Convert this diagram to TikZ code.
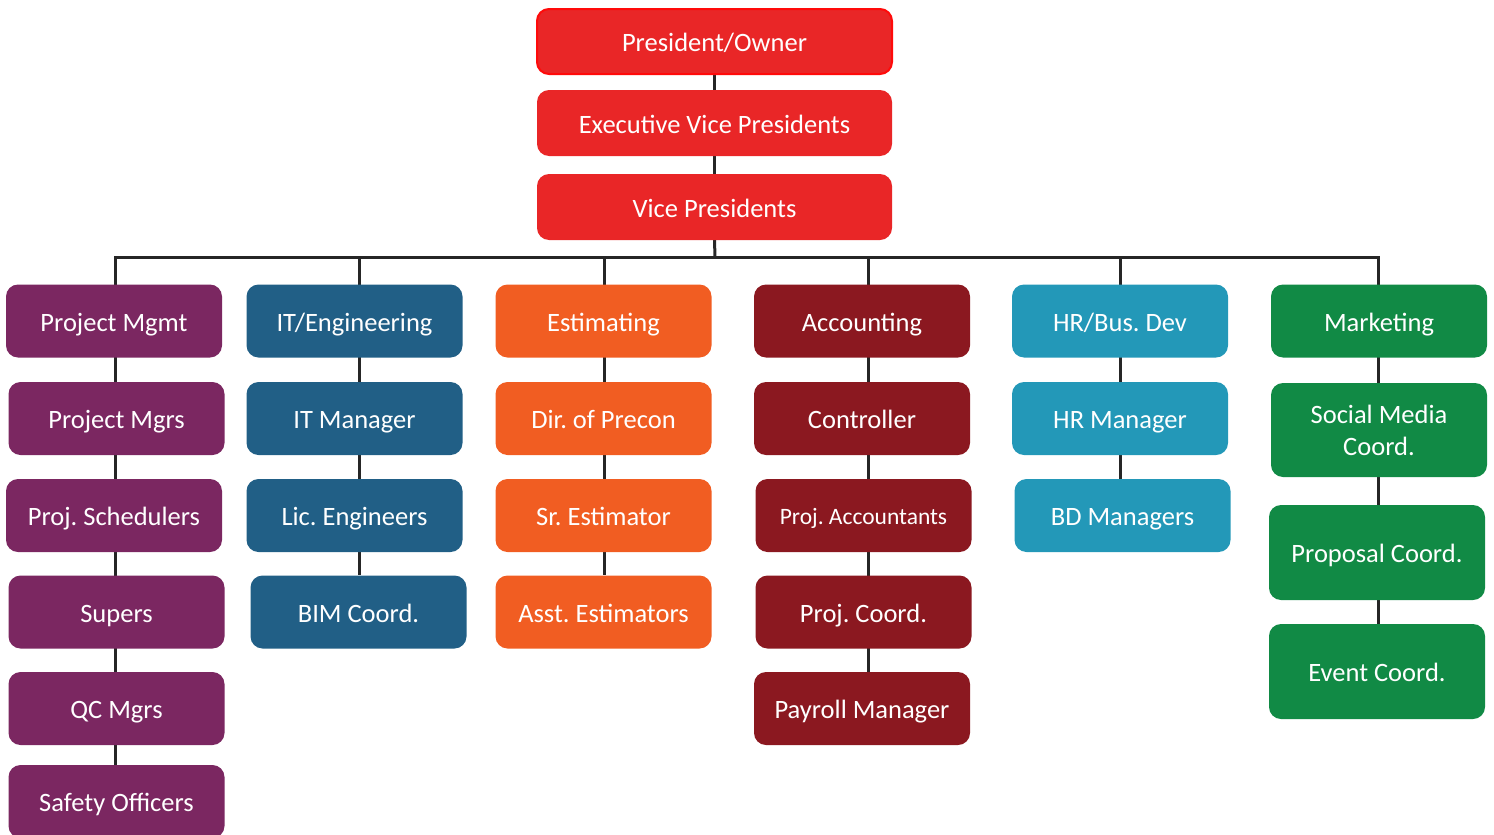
\documentclass[tikz,border=0pt]{standalone}
\usepackage{fontspec}
\setmainfont{Carlito}
\usetikzlibrary{positioning,backgrounds}

\definecolor{topred}{HTML}{E92627}
\definecolor{topedge}{HTML}{FF0A0A}
\definecolor{pmpurple}{HTML}{7B2761}
\definecolor{itblue}{HTML}{215F86}
\definecolor{estorange}{HTML}{F15D22}
\definecolor{accred}{HTML}{8B1820}
\definecolor{hrteal}{HTML}{2398B8}
\definecolor{mktgreen}{HTML}{118A45}
\definecolor{linegray}{HTML}{262626}

\tikzset{
  box/.style={rounded corners=12pt, minimum width=216pt, minimum height=73pt,
    inner sep=0pt, text=white, align=center, text height=20pt, text depth=0pt,
    font=\fontsize{26.5}{32}\selectfont\frenchspacing},
  twoline/.style={text height=, text depth=},
  topbox/.style={box, fill=topred, minimum width=355pt, minimum height=66pt},
  pmbox/.style={box, fill=pmpurple},
  itbox/.style={box, fill=itblue},
  estbox/.style={box, fill=estorange},
  accbox/.style={box, fill=accred},
  hrbox/.style={box, fill=hrteal},
  mktbox/.style={box, fill=mktgreen},
  link/.style={draw=linegray, line width=3pt}
}

\begin{document}
\begin{tikzpicture}[x=1pt,y=-1pt]
  \useasboundingbox (0,0) rectangle (1494,835);

  % top of the chart
  \node[topbox, draw=topedge, line width=2pt, minimum height=65pt] (pres) at (714.5,41.5) {President/Owner};
  \node[topbox] (evp) at (714.5,123) {Executive Vice Presidents};
  \node[topbox] (vp) at (714.5,207) {Vice Presidents};

  % bus and drops
  \coordinate (bus) at (715,257);
  \coordinate (c1) at (115,257);
  \coordinate (c2) at (359,257);
  \coordinate (c3) at (604,257);
  \coordinate (c4) at (868,257);
  \coordinate (c5) at (1120,257);
  \coordinate (c6) at (1378,257);

  % project management
  \node[pmbox] (pm) at (114,321) {Project Mgmt};
  \node[pmbox] (pmgrs) at (116.5,418.5) {Project Mgrs};
  \node[pmbox] (sched) at (114,515.5) {Proj. Schedulers};
  \node[pmbox] (supers) at (116.5,612) {Supers};
  \node[pmbox] (qc) at (116.5,708.5) {QC Mgrs};
  \node[pmbox] (safety) at (116.5,801.5) {Safety Officers};

  % IT / engineering
  \node[itbox] (it) at (354.5,321) {IT/Engineering};
  \node[itbox] (itmgr) at (354.5,418.5) {IT Manager};
  \node[itbox] (lic) at (354.5,515.5) {Lic. Engineers};
  \node[itbox] (bim) at (358.5,612) {BIM Coord.};

  % estimating
  \node[estbox] (est) at (603.5,321) {Estimating};
  \node[estbox] (precon) at (603.5,418.5) {Dir. of Precon};
  \node[estbox] (srest) at (603.5,515.5) {Sr. Estimator};
  \node[estbox] (asst) at (603.5,612) {Asst. Estimators};

  % accounting
  \node[accbox] (acc) at (862,321) {Accounting};
  \node[accbox] (ctrl) at (862,418.5) {Controller};
  \node[accbox, font=\fontsize{23.5}{28}\selectfont\frenchspacing, text height=18pt] (projacc) at (863.5,515.5) {Proj. Accountants};
  \node[accbox] (projco) at (863.5,612) {Proj. Coord.};
  \node[accbox] (payroll) at (862,708.5) {Payroll Manager};

  % HR / business development
  \node[hrbox] (hr) at (1120,321) {HR/Bus. Dev};
  \node[hrbox] (hrmgr) at (1120,418.5) {HR Manager};
  \node[hrbox] (bd) at (1122.5,515.5) {BD Managers};

  % marketing
  \node[mktbox] (mkt) at (1379,321) {Marketing};
  \node[mktbox, twoline, minimum height=94pt] (social) at (1379,430) {Social Media\\Coord.};
  \node[mktbox, minimum height=95pt] (proposal) at (1377,552.5) {Proposal Coord.};
  \node[mktbox, minimum height=95pt] (event) at (1377,671.5) {Event Coord.};

  \begin{scope}[on background layer]
    \draw[link] (pres.south) -- (evp.north);
    \draw[link] (evp.south) -- (vp.north);
    \draw[link] (vp.south) -- (bus);
    \draw[link, line cap=rect] (c1) -- (c6);
    \draw[link] (c1) -- (c1 |- safety.north);
    \draw[link] (c2) -- (c2 |- bim.north);
    \draw[link] (c3) -- (c3 |- asst.north);
    \draw[link] (c4) -- (c4 |- payroll.north);
    \draw[link] (c5) -- (c5 |- bd.north);
    \draw[link] (c6) -- (c6 |- event.north);
  \end{scope}
\end{tikzpicture}
\end{document}
